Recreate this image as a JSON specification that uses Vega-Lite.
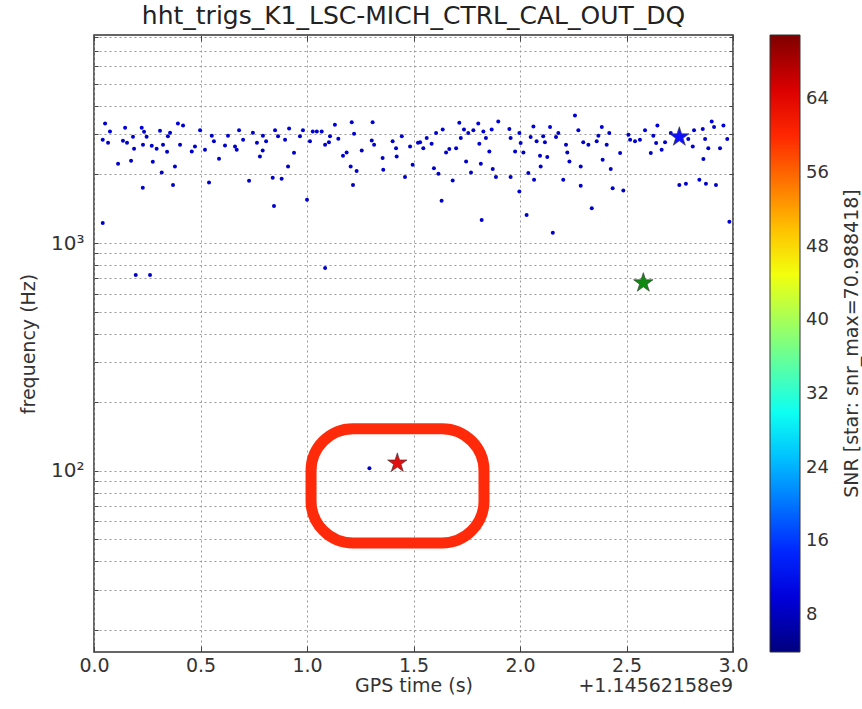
{
  "$schema": "https://vega.github.io/schema/vega-lite/v6.json",
  "autosize": {"type": "none"},
  "padding": {"left": 94, "top": 35, "right": 129, "bottom": 57},
  "width": 639,
  "height": 617,
  "background": "white",
  "title": {"text": "hht_trigs_K1_LSC-MICH_CTRL_CAL_OUT_DQ", "font": "DejaVu Sans", "fontSize": 25, "fontWeight": "normal", "color": "#222", "anchor": "middle", "offset": 6},
  "config": {
    "font": "DejaVu Sans",
    "view": {"stroke": "#333", "strokeWidth": 1.5},
    "axis": {"labelFont": "DejaVu Sans", "titleFont": "DejaVu Sans", "labelColor": "#333", "titleColor": "#333", "titleFontWeight": "normal", "domain": false, "tickColor": "#444", "gridColor": "#999", "gridDash": [2, 3], "gridWidth": 1, "labelFlush": false}
  },
  "datasets": {
    "dots": [
      {"t":0.041,"f":2840,"snr":9},{"t":0.052,"f":3344,"snr":9},{"t":0.075,"f":3090,"snr":10},{"t":0.066,"f":2758,"snr":9},{"t":0.113,"f":2228,"snr":9},
      {"t":0.041,"f":1225,"snr":9},{"t":0.146,"f":3211,"snr":10},{"t":0.136,"f":2814,"snr":9},{"t":0.155,"f":2758,"snr":9},{"t":0.174,"f":2296,"snr":9},
      {"t":0.183,"f":2931,"snr":10},{"t":0.188,"f":2594,"snr":9},{"t":0.196,"f":723,"snr":9},{"t":0.224,"f":3211,"snr":10},{"t":0.235,"f":3083,"snr":9},
      {"t":0.229,"f":1747,"snr":9},{"t":0.247,"f":2931,"snr":9},{"t":0.230,"f":2702,"snr":9},{"t":0.263,"f":723,"snr":9},{"t":0.276,"f":2273,"snr":9},
      {"t":0.271,"f":2675,"snr":9},{"t":0.294,"f":2594,"snr":9},{"t":0.310,"f":3115,"snr":10},{"t":0.318,"f":2040,"snr":9},{"t":0.324,"f":2702,"snr":9},
      {"t":0.343,"f":2517,"snr":9},{"t":0.357,"f":3050,"snr":10},{"t":0.347,"f":2940,"snr":9},{"t":0.371,"f":1800,"snr":9},{"t":0.380,"f":2170,"snr":9},
      {"t":0.394,"f":3344,"snr":10},{"t":0.418,"f":3277,"snr":9},{"t":0.404,"f":2702,"snr":9},{"t":0.459,"f":2525,"snr":9},{"t":0.474,"f":2655,"snr":9},
      {"t":0.498,"f":3130,"snr":10},{"t":0.521,"f":2568,"snr":9},{"t":0.540,"f":1845,"snr":9},{"t":0.553,"f":2961,"snr":9},{"t":0.563,"f":2795,"snr":9},
      {"t":0.587,"f":2344,"snr":9},{"t":0.615,"f":2683,"snr":9},{"t":0.629,"f":2961,"snr":10},{"t":0.662,"f":2655,"snr":9},{"t":0.670,"f":2568,"snr":9},
      {"t":0.681,"f":3130,"snr":10},{"t":0.700,"f":2843,"snr":9},{"t":0.728,"f":1876,"snr":9},{"t":0.746,"f":3050,"snr":9},{"t":0.765,"f":2758,"snr":9},
      {"t":0.779,"f":2400,"snr":9},{"t":0.792,"f":2550,"snr":9},{"t":0.793,"f":2961,"snr":9},{"t":0.808,"f":2795,"snr":9},{"t":0.839,"f":1934,"snr":9},
      {"t":0.845,"f":1455,"snr":9},{"t":0.850,"f":3130,"snr":10},{"t":0.864,"f":2940,"snr":9},{"t":0.881,"f":1914,"snr":9},{"t":0.897,"f":2843,"snr":9},
      {"t":0.911,"f":2170,"snr":9},{"t":0.916,"f":3180,"snr":10},{"t":0.939,"f":2490,"snr":9},{"t":0.967,"f":2940,"snr":9},{"t":0.981,"f":3130,"snr":10},
      {"t":1.000,"f":1547,"snr":9},{"t":1.014,"f":2795,"snr":9},{"t":1.027,"f":3090,"snr":10},{"t":1.046,"f":3090,"snr":9},{"t":1.069,"f":3090,"snr":9},
      {"t":1.085,"f":2702,"snr":9},{"t":1.085,"f":776,"snr":9},{"t":1.103,"f":2770,"snr":9},{"t":1.108,"f":2940,"snr":9},{"t":1.131,"f":3310,"snr":10},
      {"t":1.147,"f":2872,"snr":9},{"t":1.169,"f":2416,"snr":9},{"t":1.186,"f":2500,"snr":9},{"t":1.205,"f":2170,"snr":9},{"t":1.216,"f":1800,"snr":9},
      {"t":1.210,"f":3390,"snr":10},{"t":1.221,"f":3021,"snr":9},{"t":1.233,"f":2070,"snr":9},{"t":1.257,"f":2550,"snr":9},{"t":1.308,"f":3390,"snr":10},
      {"t":1.304,"f":2820,"snr":9},{"t":1.315,"f":2702,"snr":9},{"t":1.355,"f":2360,"snr":9},{"t":1.358,"f":2097,"snr":9},{"t":1.402,"f":2795,"snr":9},
      {"t":1.418,"f":2610,"snr":9},{"t":1.421,"f":2400,"snr":9},{"t":1.445,"f":2940,"snr":10},{"t":1.460,"f":1948,"snr":9},{"t":1.484,"f":2655,"snr":9},
      {"t":1.496,"f":2206,"snr":9},{"t":1.521,"f":2758,"snr":9},{"t":1.531,"f":2770,"snr":9},{"t":1.546,"f":2610,"snr":9},{"t":1.562,"f":2890,"snr":9},
      {"t":1.585,"f":2730,"snr":9},{"t":1.596,"f":2130,"snr":9},{"t":1.606,"f":3040,"snr":10},{"t":1.617,"f":2014,"snr":9},{"t":1.632,"f":1533,"snr":9},
      {"t":1.637,"f":3147,"snr":10},{"t":1.653,"f":2500,"snr":9},{"t":1.668,"f":2590,"snr":9},{"t":1.684,"f":1882,"snr":9},{"t":1.700,"f":2610,"snr":9},
      {"t":1.715,"f":3370,"snr":10},{"t":1.722,"f":2890,"snr":9},{"t":1.737,"f":3147,"snr":9},{"t":1.747,"f":2280,"snr":9},{"t":1.757,"f":3040,"snr":9},
      {"t":1.770,"f":2040,"snr":9},{"t":1.781,"f":3130,"snr":9},{"t":1.804,"f":3344,"snr":10},{"t":1.809,"f":2730,"snr":9},{"t":1.816,"f":2228,"snr":9},
      {"t":1.820,"f":1263,"snr":9},{"t":1.828,"f":3090,"snr":9},{"t":1.840,"f":2890,"snr":9},{"t":1.856,"f":2525,"snr":9},{"t":1.867,"f":3147,"snr":10},
      {"t":1.872,"f":2112,"snr":9},{"t":1.887,"f":1948,"snr":9},{"t":1.898,"f":3420,"snr":10},{"t":1.950,"f":3170,"snr":9},{"t":1.956,"f":1948,"snr":9},
      {"t":1.956,"f":2890,"snr":9},{"t":1.977,"f":2525,"snr":9},{"t":1.997,"f":3040,"snr":10},{"t":1.997,"f":1683,"snr":9},{"t":2.003,"f":2750,"snr":9},
      {"t":2.016,"f":2500,"snr":9},{"t":2.031,"f":1329,"snr":9},{"t":2.039,"f":2028,"snr":9},{"t":2.050,"f":2922,"snr":9},{"t":2.063,"f":3250,"snr":10},
      {"t":2.066,"f":1895,"snr":9},{"t":2.078,"f":2795,"snr":9},{"t":2.094,"f":2416,"snr":9},{"t":2.097,"f":2170,"snr":9},{"t":2.109,"f":2940,"snr":9},
      {"t":2.117,"f":2770,"snr":9},{"t":2.128,"f":2385,"snr":9},{"t":2.141,"f":3230,"snr":10},{"t":2.154,"f":1110,"snr":9},{"t":2.169,"f":2922,"snr":9},
      {"t":2.180,"f":3040,"snr":9},{"t":2.203,"f":1895,"snr":9},{"t":2.216,"f":2702,"snr":9},{"t":2.222,"f":2500,"snr":9},{"t":2.232,"f":2280,"snr":9},
      {"t":2.258,"f":3627,"snr":10},{"t":2.274,"f":3130,"snr":9},{"t":2.285,"f":2170,"snr":9},{"t":2.285,"f":1783,"snr":9},{"t":2.297,"f":2770,"snr":9},
      {"t":2.321,"f":2702,"snr":9},{"t":2.337,"f":1420,"snr":9},{"t":2.360,"f":2795,"snr":9},{"t":2.368,"f":2961,"snr":9},{"t":2.384,"f":3230,"snr":10},
      {"t":2.388,"f":2320,"snr":9},{"t":2.407,"f":2702,"snr":9},{"t":2.419,"f":3040,"snr":9},{"t":2.426,"f":2112,"snr":9},{"t":2.435,"f":1740,"snr":9},
      {"t":2.470,"f":2485,"snr":9},{"t":2.485,"f":1700,"snr":9},{"t":2.509,"f":2990,"snr":9},{"t":2.517,"f":2843,"snr":9},{"t":2.540,"f":2795,"snr":9},
      {"t":2.563,"f":2843,"snr":9},{"t":2.587,"f":3130,"snr":10},{"t":2.614,"f":2485,"snr":9},{"t":2.626,"f":2961,"snr":9},{"t":2.639,"f":2750,"snr":9},
      {"t":2.645,"f":3277,"snr":10},{"t":2.665,"f":2568,"snr":9},{"t":2.681,"f":2770,"snr":9},{"t":2.708,"f":3040,"snr":9},{"t":2.748,"f":1800,"snr":9},
      {"t":2.779,"f":1820,"snr":9},{"t":2.790,"f":2860,"snr":9},{"t":2.811,"f":2655,"snr":9},{"t":2.817,"f":3130,"snr":9},{"t":2.842,"f":1895,"snr":9},
      {"t":2.858,"f":3170,"snr":10},{"t":2.861,"f":2337,"snr":9},{"t":2.869,"f":2860,"snr":9},{"t":2.873,"f":1820,"snr":9},{"t":2.884,"f":2610,"snr":9},
      {"t":2.900,"f":3420,"snr":10},{"t":2.911,"f":3230,"snr":9},{"t":2.920,"f":1800,"snr":9},{"t":2.939,"f":2610,"snr":9},{"t":2.955,"f":3277,"snr":10},
      {"t":2.973,"f":2860,"snr":9},{"t":2.983,"f":1240,"snr":9},{"t":1.293,"f":102.6,"snr":9}
    ],
    "stars": [
      {"t":2.748,"f":2922,"group":"max A"},
      {"t":2.579,"f":668,"group":"max B"},
      {"t":1.424,"f":108,"group":"max C (snr_max=70.988418)"}
    ],
    "mark": [
      {"t":1.019,"t2":1.831,"f":153,"f2":48.2}
    ],
    "offset": [
      {"t":3.0,"f":16,"label":"+1.14562158e9"}
    ]
  },
  "layer": [
    {
      "data": {"name": "dots"},
      "mark": {"type": "point", "filled": true, "size": 16, "opacity": 1, "strokeWidth": 0},
      "encoding": {
        "x": {"field": "t", "type": "quantitative", "scale": {"domain": [0, 3], "nice": false, "zero": false},
              "axis": {"orient": "bottom", "values": [0, 0.5, 1, 1.5, 2, 2.5, 3], "format": ".1f", "labelFontSize": 19, "tickSize": -6, "labelPadding": 10, "title": "GPS time (s)", "titleFontSize": 19, "titlePadding": 1, "grid": true}},
        "y": {"field": "f", "type": "quantitative", "scale": {"type": "log", "domain": [16, 8192], "nice": false},
              "axis": {"orient": "left", "values": [20, 30, 40, 50, 60, 70, 80, 90, 100, 200, 300, 400, 500, 600, 700, 800, 900, 1000, 2000, 3000, 4000, 5000, 6000, 7000, 8000],
                       "labelExpr": "datum.value == 100 ? '10²' : (datum.value == 1000 ? '10³' : '')", "labelFontSize": 20, "tickSize": -4, "labelPadding": 14, "title": "frequency (Hz)", "titleFontSize": 19, "titlePadding": 12, "grid": true}},
        "color": {"field": "snr", "type": "quantitative",
                  "scale": {"domain": [4, 70.99], "range": ["#00007f", "#0000ff", "#007fff", "#00ffff", "#7fff7f", "#ffff00", "#ff7f00", "#ff0000", "#7f0000"], "interpolate": "rgb", "zero": false, "nice": false},
                  "legend": {"type": "gradient", "orient": "none", "legendX": 676, "legendY": 0, "direction": "vertical", "gradientLength": 617, "gradientThickness": 30, "gradientStrokeColor": "#333", "gradientStrokeWidth": 1,
                             "values": [8, 16, 24, 32, 40, 48, 56, 64], "labelFontSize": 18, "labelColor": "#333", "labelOverlap": false, "labelOffset": 6, "labelFont": "DejaVu Sans", "title": null}}
      }
    },
    {
      "data": {"name": "stars"},
      "mark": {"type": "point", "filled": true, "size": 420, "opacity": 1, "stroke": "#333", "strokeWidth": 0.6,
               "shape": "M0,-1L0.2245,-0.309L0.951,-0.309L0.363,0.118L0.588,0.809L0,0.382L-0.588,0.809L-0.363,0.118L-0.951,-0.309L-0.2245,-0.309Z"},
      "encoding": {
        "x": {"field": "t", "type": "quantitative", "axis": null},
        "y": {"field": "f", "type": "quantitative", "axis": null},
        "fill": {"field": "group", "type": "nominal", "scale": {"domain": ["max A", "max B", "max C (snr_max=70.988418)"], "range": ["#1010ff", "#108a10", "#e01010"]}, "legend": null}
      }
    },
    {
      "data": {"name": "mark"},
      "mark": {"type": "rect", "filled": false, "stroke": "#ff2a0a", "strokeWidth": 11, "cornerRadius": 42, "fill": null},
      "encoding": {
        "x": {"field": "t", "type": "quantitative", "axis": null},
        "x2": {"field": "t2"},
        "y": {"field": "f", "type": "quantitative", "axis": null},
        "y2": {"field": "f2"}
      }
    },
    {
      "data": {"name": "offset"},
      "mark": {"type": "text", "align": "right", "baseline": "middle", "dy": 34, "fontSize": 19, "font": "DejaVu Sans", "color": "#333"},
      "encoding": {
        "x": {"field": "t", "type": "quantitative", "axis": null},
        "y": {"field": "f", "type": "quantitative", "axis": null},
        "text": {"field": "label"}
      }
    },
    {
      "data": {"name": "offset"},
      "mark": {"type": "point", "opacity": 0},
      "encoding": {
        "x": {"field": "t", "type": "quantitative",
              "axis": {"orient": "top", "values": [0, 0.5, 1, 1.5, 2, 2.5, 3], "labels": false, "tickSize": -6, "title": null, "grid": false}},
        "y": {"field": "f", "type": "quantitative",
              "axis": {"orient": "right", "values": [20, 30, 40, 50, 60, 70, 80, 90, 100, 200, 300, 400, 500, 600, 700, 800, 900, 1000, 2000, 3000, 4000, 5000, 6000, 7000, 8000],
                       "labels": false, "tickSize": -4, "grid": false, "title": "SNR [star: snr_max=70.988418]", "titleAngle": 270, "titleX": 118, "titleY": 308, "titleAlign": "center", "titleBaseline": "middle", "titleFontSize": 19, "titleLimit": 800}}
      }
    }
  ],
  "resolve": {"scale": {"color": "independent"}, "axis": {"x": "independent", "y": "independent"}}
}
